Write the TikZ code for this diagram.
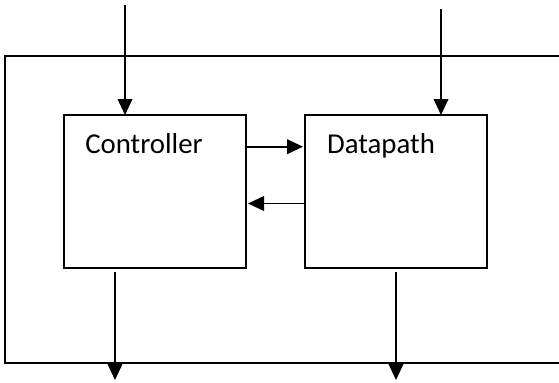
\documentclass[tikz,border=0pt]{standalone}
\usepackage{fontspec}
\setmainfont{Carlito}
\usetikzlibrary{arrows.meta}
\tikzset{
  unit/.style={x=0.75pt,y=-0.75pt},
  wire/.style={line width=1.3pt},
  arr/.style={wire,-{Triangle[length=12pt,width=11pt]}},
  blk/.style={draw,line width=1.3pt,inner sep=0pt,outer sep=0pt,
              minimum width=136.5pt,minimum height=114.75pt},
  lbl/.style={font=\fontsize{21.6pt}{24pt}\selectfont,inner sep=0pt,anchor=base}
}
\begin{document}
\begin{tikzpicture}[unit]
  \useasboundingbox (0,0) rectangle (559,382);
  % enclosing frame, open to the right
  \draw[wire] (559,56) -- (5,56) -- (5,363) -- (559,363);
  % the two blocks
  \node[blk] (ctrl) at (155,191.5) {};
  \node[blk] (dp) at (396,191.5) {};
  \node[lbl] (ctrltxt) at (144,153) {Controller};
  \node[lbl] (dptxt) at (381,153) {Datapath};
  % external inputs and outputs
  \coordinate (in1) at (125,5);
  \coordinate (in2) at (441,9);
  \coordinate (out1) at (115,380);
  \coordinate (out2) at (396,380);
  \draw[arr] (in1) -- (in1 |- ctrl.north);
  \draw[arr] (in2) -- (in2 |- dp.north);
  \draw[arr] ([yshift=-3pt]out1 |- ctrl.south) -- (out1);
  \draw[arr] ([yshift=-3pt]out2 |- dp.south) -- (out2);
  % handshake between controller and datapath
  \draw[arr,shorten >=1.5pt] ([yshift=33.6pt]ctrl.east) -- ([yshift=33.6pt]dp.west);
  \draw[arr,shorten >=1.5pt] ([yshift=-9pt]dp.west) -- ([yshift=-9pt]ctrl.east);
\end{tikzpicture}
\end{document}
